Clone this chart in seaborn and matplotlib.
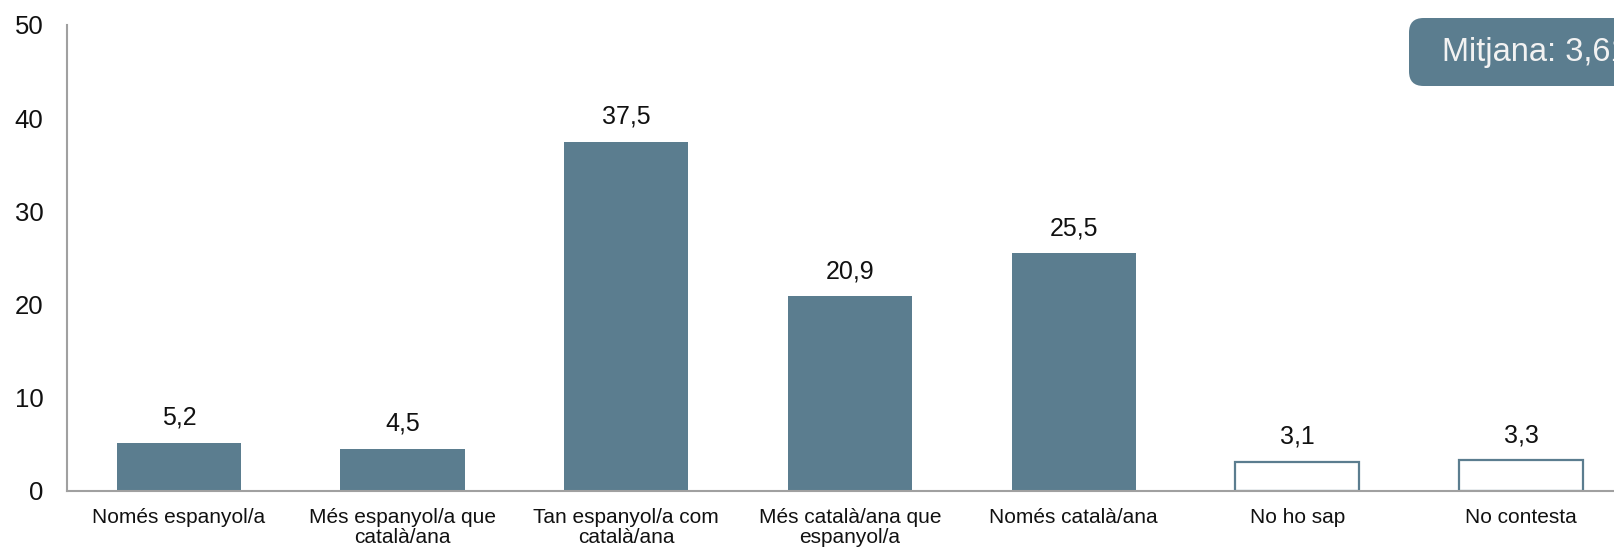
import pandas as pd
import matplotlib.pyplot as plt
import seaborn as sns
from matplotlib.patches import FancyBboxPatch

categories = ['Només espanyol/a', 'Més espanyol/a que\ncatalà/ana',
              'Tan espanyol/a com\ncatalà/ana', 'Més català/ana que\nespanyol/a',
              'Només català/ana', 'No ho sap', 'No contesta']
values = [5.2, 4.5, 37.5, 20.9, 25.5, 3.1, 3.3]
value_labels = ['5,2', '4,5', '37,5', '20,9', '25,5', '3,1', '3,3']
hollow = [False, False, False, False, False, True, True]
mean_label = 'Mitjana: 3,61'
yticks = [0, 10, 20, 30, 40, 50]

BAR = '#5B7D8F'
GRAY = '#A0A0A0'

sns.set_style('white')
plt.rcParams['font.family'] = ['Liberation Sans', 'DejaVu Sans']

df = pd.DataFrame({'cat': categories, 'val': values})

fig = plt.figure(figsize=(16.15, 5.51), dpi=100)
ax = fig.add_axes([67 / 1615, 1 - 491 / 551, 1 - 67 / 1615, (491 - 25) / 551])

sns.barplot(data=df, x='cat', y='val', color=BAR, width=0.555, saturation=1, ax=ax)

for patch, h in zip(ax.patches, hollow):
    if h:
        patch.set_facecolor('white')
        patch.set_edgecolor(BAR)
        patch.set_linewidth(1.6)
    else:
        patch.set_edgecolor('none')

for i, (v, lab) in enumerate(zip(values, value_labels)):
    ax.annotate(lab, (i, v), xytext=(0, 9.5), textcoords='offset points',
                ha='center', va='bottom', fontsize=18, color='#111111')

ax.set_ylim(0, 50)
ax.set_xlim(-0.5, 6.42)
ax.set_yticks(yticks)
ax.set_xlabel('')
ax.set_ylabel('')
ax.tick_params(axis='y', length=0, pad=17, labelsize=18.5, labelcolor='#111111')
ax.tick_params(axis='x', length=0, pad=12, labelsize=15, labelcolor='#111111')
for t in ax.get_xticklabels():
    t.set_linespacing(1.1)

sns.despine(ax=ax, top=True, right=True)
for s in ['left', 'bottom']:
    ax.spines[s].set_color(GRAY)
    ax.spines[s].set_linewidth(1.5)

# mean box in the top right corner (cut off by the figure edge, as in the original)
box = FancyBboxPatch((1409 / 1615, 1 - 86 / 551), 0.2, 68 / 551,
                     boxstyle='round,pad=0,rounding_size=0.009',
                     transform=fig.transFigure, facecolor=BAR, edgecolor='none',
                     mutation_aspect=1615 / 551, clip_on=False)
fig.patches.append(box)
fig.text(1442 / 1615, 1 - 53 / 551, mean_label, fontsize=23.5, color='#F2F2F2',
         ha='left', va='center')

fig.savefig('out.png', dpi=100)
